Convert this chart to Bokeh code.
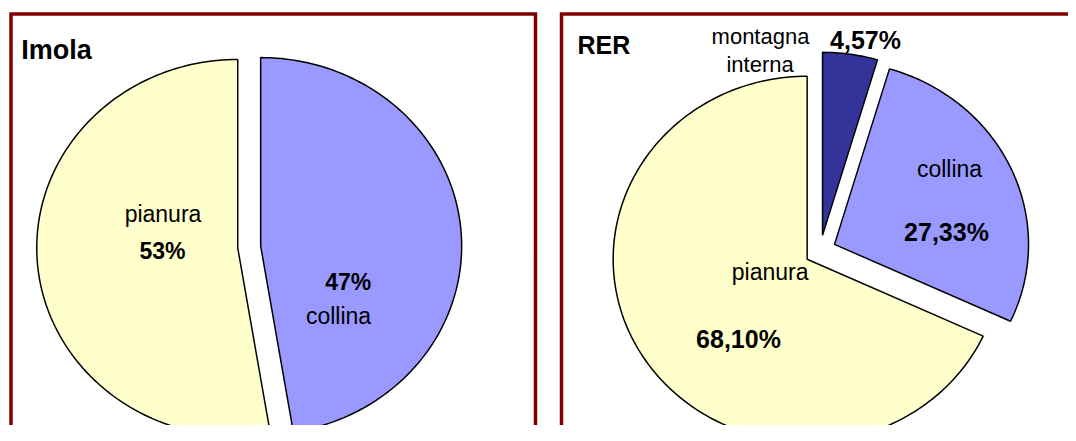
import numpy as np
from bokeh.plotting import figure
from bokeh.models import Range1d, ColumnDataSource
from bokeh.core.properties import value
from bokeh.embed import file_html
from bokeh.resources import INLINE

# ---------------- data ----------------
imola_title = "Imola"
imola_categories = ["collina", "pianura"]
imola_values = [47.4, 52.6]

rer_title = "RER"
rer_categories = ["montagna interna", "collina", "pianura"]
rer_values = [4.57, 27.33, 68.10]

category_colors = {
    "pianura": "#FFFFCC",
    "collina": "#9999FF",
    "montagna interna": "#333399",
}

# ---------------- figure (picture pixel coordinates, y downwards) ----------------
W, H = 1068, 425
p = figure(width=W, height=H, output_backend="svg", toolbar_location=None,
           x_range=Range1d(0, W), y_range=Range1d(H, 0),
           x_axis_type=None, y_axis_type=None, min_border=0,
           background_fill_color="white", border_fill_color="white")
p.grid.visible = False
p.outline_line_color = None


def slice_polys(values, cx, cy, rx, ry, explode, n=240):
    total = float(sum(values))
    start = 0.0
    xs, ys = [], []
    for v in values:
        a0 = 2 * np.pi * start / total
        a1 = 2 * np.pi * (start + v) / total
        mid = 0.5 * (a0 + a1)
        ox = cx + explode * np.sin(mid)
        oy = cy - explode * np.cos(mid)
        k = max(3, int(n * (a1 - a0) / (2 * np.pi)) + 2)
        t = np.linspace(a0, a1, k)
        xs.append([ox] + list(ox + rx * np.sin(t)))
        ys.append([oy] + list(oy - ry * np.cos(t)))
        start += v
    return xs, ys


def draw_pie(categories, values, cx, cy, rx, ry, explode):
    xs, ys = slice_polys(values, cx, cy, rx, ry, explode)
    src = ColumnDataSource(dict(xs=xs, ys=ys,
                                color=[category_colors[c] for c in categories]))
    p.patches("xs", "ys", source=src, fill_color="color",
              line_color="black", line_width=1.5)


# frames
frame_color = "#800000"
p.line([10.5, 10.5, 535, 535], [445, 13.5, 13.5, 445], line_color=frame_color,
       line_width=3.5, line_join="miter")
p.line([561, 561, 1090], [445, 13.5, 13.5], line_color=frame_color,
       line_width=3.5, line_join="miter")

draw_pie(imola_categories, imola_values, 248.7, 246.5, 201, 188.5, 11.5)
draw_pie(rer_categories, rer_values, 819.8, 250.3, 194, 183, 15.6)


def pct_int(v):
    return f"{round(v)}%"


def pct_2(v):
    return f"{v:.2f}".replace(".", ",") + "%"


FONT = value("Liberation Sans")


def add_text(x, y, txt, size, bold=False, align="center"):
    p.text(x=[x], y=[y], text=[txt], text_font=FONT,
           text_font_size=value(f"{size}px"),
           text_font_style="bold" if bold else "normal",
           text_align=align, text_baseline="alphabetic", text_color="black")


# Imola texts
add_text(20.7, 49.3, imola_title, 27, bold=True, align="left")
add_text(162.5, 213.3, imola_categories[1], 23)
add_text(162, 250.7, pct_int(imola_values[1]), 23, bold=True)
add_text(347.7, 281.7, pct_int(imola_values[0]), 23, bold=True)
add_text(338, 315, imola_categories[0], 23)

# RER texts
add_text(577, 44, rer_title, 25, bold=True, align="left")
m1, m2 = rer_categories[0].split(" ")
add_text(760, 36, m1, 22)
add_text(759.6, 64, m2, 22)
add_text(865, 39, pct_2(rer_values[0]), 25, bold=True)
add_text(949, 168, rer_categories[1], 23)
add_text(946, 231, pct_2(rer_values[1]), 25, bold=True)
add_text(769.6, 271.5, rer_categories[2], 23)
add_text(738, 338.3, pct_2(rer_values[2]), 25, bold=True)

open("out.html", "w").write(file_html(p, INLINE))
